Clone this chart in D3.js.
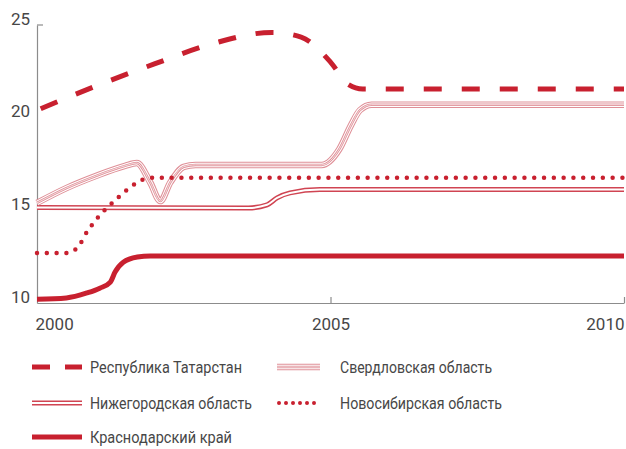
<!DOCTYPE html>
<html><head><meta charset="utf-8">
<script src="https://cdn.jsdelivr.net/npm/d3@7"></script>
<style>
html,body{margin:0;padding:0;background:#fff;}
svg{display:block;}
text{font-family:Roboto,"Noto Sans",sans-serif;fill:#474747;}
</style></head>
<body><svg id="c" width="626" height="449"></svg>
<script>
const years = [2000, 2005, 2010];
const yTicks = [10, 15, 20, 25];
const names = ["Республика Татарстан","Свердловская область","Нижегородская область","Новосибирская область","Краснодарский край"];
const tatarstan = [[2000,20.4],[2001,21.7],[2002,22.9],[2003,24.0],[2004,24.6],[2004.5,24.35],[2005,23.0],[2005.3,21.8],[2005.55,21.55],[2006,21.55],[2010,21.55]];
const sverdlovsk = [[2000,15.4],[2000.5,16.2],[2001,16.85],[2001.5,17.4],[2001.7,17.55],[2001.93,16.5],[2002.1,15.5],[2002.27,16.5],[2002.5,17.35],[2002.7,17.45],[2004.85,17.45],[2005.15,18.3],[2005.35,19.6],[2005.5,20.4],[2005.7,20.7],[2010,20.7]];
const nizhny = [[2000,15.15],[2003.6,15.13],[2003.92,15.3],[2004.09,15.67],[2004.31,15.94],[2004.82,16.12],[2010,16.12]];
const novosibirsk = [[2000,12.7],[2000.5,12.7],[2000.68,12.95],[2000.85,13.83],[2001.06,14.7],[2001.3,15.45],[2001.55,16.15],[2001.84,16.7],[2002,16.76],[2010,16.76]];
const krasnodar = [[2000,10.2],[2000.5,10.27],[2000.85,10.54],[2001.07,10.8],[2001.25,11.13],[2001.33,11.67],[2001.47,12.2],[2001.71,12.48],[2001.93,12.54],[2010,12.54]];

const RED = "#c8202f", PINK = "#df8f97", NRED = "#d04452";
const svg = d3.select("#c");
const x = d3.scaleLinear().domain([2000,2010]).range([37,624]);
const y = d3.scaleLinear().domain([10,25]).range([303,25]);
const line = d3.line().x(d=>x(d[0])).y(d=>y(d[1])).curve(d3.curveMonotoneX);

// axes
const xa = svg.append("g").attr("transform","translate(0,303)")
  .call(d3.axisBottom(x).tickValues(years).tickFormat(d3.format("d")).tickSizeInner(-6).tickSizeOuter(0));
xa.select(".domain").attr("stroke","#8c8c8c").attr("stroke-width",1.2);
xa.selectAll(".tick line").attr("stroke","#8c8c8c").attr("stroke-width",1.2);
xa.selectAll(".tick text").attr("font-size",17).attr("dy",0).attr("y",27)
  .attr("text-anchor",(d,i)=> i===0?"start":(i===years.length-1?"end":"middle"))
  .attr("dx",(d,i)=> i===0?"-2":"0");
xa.selectAll(".tick").filter(d=>d===2000).select("line").remove();

const ya = svg.append("g").attr("transform","translate(37,0)")
  .call(d3.axisLeft(y).tickValues(yTicks).tickSize(0).tickPadding(7));
ya.select(".domain").attr("stroke","#8c8c8c").attr("stroke-width",1.2);
ya.selectAll(".tick text").attr("font-size",17).attr("dy","-1");
svg.append("line").attr("x1",x(2000)).attr("x2",x(2000)+6).attr("y1",y(25)).attr("y2",y(25))
  .attr("stroke","#8c8c8c").attr("stroke-width",1.2);

const g = svg.append("g").attr("fill","none");
function sverdStroke(sel, d){
  [[6.5,PINK],[4.5,"#fff"],[2.4,PINK],[0.7,"#fff"]].forEach(([w,c])=>{
    sel.append("path").attr("d",d).attr("stroke",c).attr("stroke-width",w).attr("fill","none");
  });
}
function nizhStroke(sel, d){
  [[5,NRED],[2,"#fff"]].forEach(([w,c])=>{
    sel.append("path").attr("d",d).attr("stroke",c).attr("stroke-width",w).attr("fill","none");
  });
}
nizhStroke(g, line(nizhny));
sverdStroke(g, line(sverdlovsk));
g.append("path").attr("d",line(novosibirsk)).attr("stroke",RED).attr("stroke-width",4.5)
  .attr("stroke-linecap","round").attr("stroke-dasharray","0 9.8");
g.append("path").attr("d",line(krasnodar)).attr("stroke",RED).attr("stroke-width",5);
g.append("path").attr("d",line(tatarstan)).attr("stroke",RED).attr("stroke-width",5)
  .attr("stroke-dasharray","18 20").attr("stroke-dashoffset","-4");

// legend
const leg = svg.append("g");
const rows = [
  {n:0, x:32, y:367, type:"dash", w:152},
  {n:1, x:277, y:367, type:"sverd", w:152},
  {n:2, x:32, y:403, type:"nizh", w:162},
  {n:3, x:277, y:403, type:"dot", w:162},
  {n:4, x:32, y:437, type:"solid", w:142}
];
rows.forEach(r=>{
  const d = `M${r.x},${r.y}H${r.x+50}`;
  if(r.type==="dash") leg.append("path").attr("d",d).attr("stroke",RED).attr("stroke-width",5).attr("stroke-dasharray","18 15");
  if(r.type==="sverd") sverdStroke(leg, `M${r.x},${r.y}H${r.x+43}`);
  if(r.type==="nizh") nizhStroke(leg, d);
  if(r.type==="dot") leg.append("path").attr("d",`M${r.x+2},${r.y}H${r.x+44}`).attr("stroke",RED).attr("stroke-width",4).attr("stroke-linecap","round").attr("stroke-dasharray","0 7");
  if(r.type==="solid") leg.append("path").attr("d",d).attr("stroke",RED).attr("stroke-width",5);
  leg.append("text").attr("x", r.type==="sverd"||r.type==="dot" ? r.x+63 : r.x+58).attr("y",r.y+6)
    .attr("font-size",17).attr("textLength",r.w).attr("lengthAdjust","spacingAndGlyphs").text(names[r.n]);
});
</script></body></html>
